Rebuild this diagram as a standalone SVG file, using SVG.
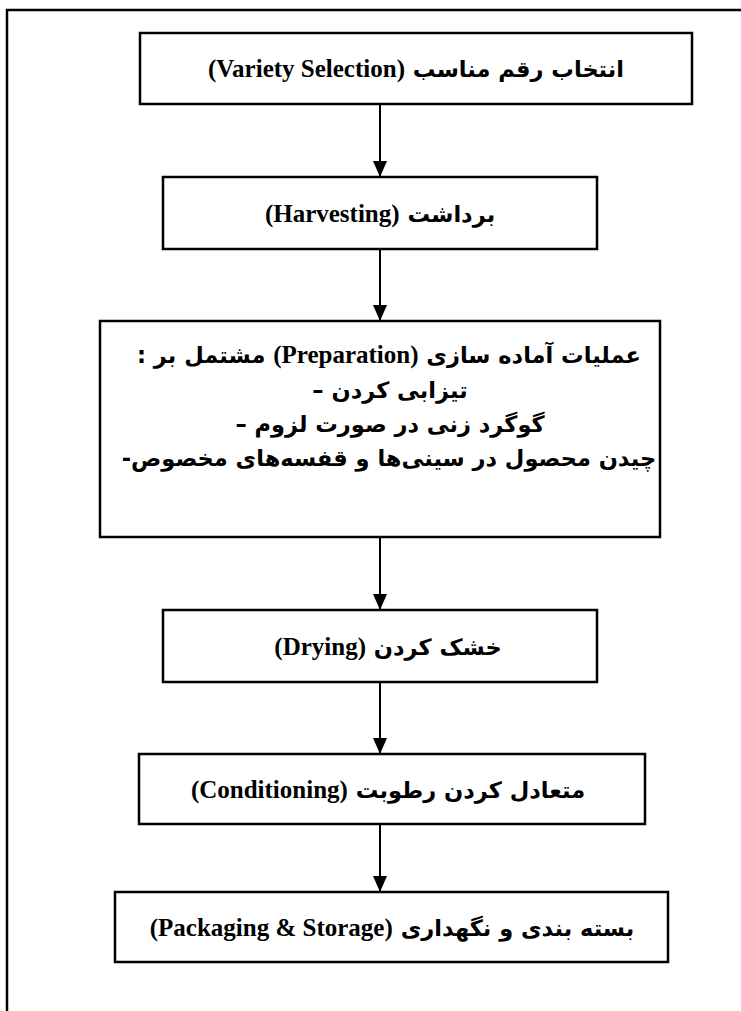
<svg xmlns="http://www.w3.org/2000/svg" width="741" height="1011" viewBox="0 0 741 1011">
<style>
.box{fill:#fff;stroke:#000;stroke-width:2.5}
.frame{fill:none;stroke:#000;stroke-width:2.5}
.t{font-family:"DejaVu Sans","Liberation Serif",sans-serif;font-weight:bold;font-size:22.5px;fill:#000;text-anchor:middle;direction:rtl}
.e{font-family:"Liberation Serif","Times New Roman",serif;font-size:25px}
.c{stroke:#000;stroke-width:2;fill:none}
</style>
<defs>
<marker id="ah" markerUnits="userSpaceOnUse" markerWidth="16" markerHeight="14" refX="16" refY="7" orient="auto">
<path d="M0,0 L16,7 L0,14 z" fill="#000"/>
</marker>
</defs>
<path class="frame" d="M7,1011 V10 H741"/>
<g id="connectors">
<line class="c" x1="380" y1="104" x2="380" y2="177" marker-end="url(#ah)"/>
<line class="c" x1="380" y1="249" x2="380" y2="321" marker-end="url(#ah)"/>
<line class="c" x1="380" y1="537" x2="380" y2="610" marker-end="url(#ah)"/>
<line class="c" x1="380" y1="682" x2="380" y2="754" marker-end="url(#ah)"/>
<line class="c" x1="380" y1="824" x2="380" y2="892" marker-end="url(#ah)"/>
</g>
<g id="n1">
<rect class="box" x="140" y="33" width="552" height="71"/>
<text class="t" x="416" y="77">انتخاب رقم مناسب <tspan class="e">(Variety Selection)</tspan></text>
</g>
<g id="n2">
<rect class="box" x="163" y="177" width="434" height="72"/>
<text class="t" x="380" y="222">برداشت <tspan class="e">(Harvesting)</tspan></text>
</g>
<g id="n3">
<rect class="box" x="100" y="321" width="560" height="216"/>
<text class="t" x="389" y="363">عملیات آماده سازی <tspan class="e">(Preparation)</tspan> مشتمل بر :</text>
<text class="t" x="390" y="398">تیزابی کردن –</text>
<text class="t" x="390" y="432">گوگرد زنی در صورت لزوم –</text>
<text class="t" x="389" y="466">چیدن محصول در سینی&#x200C;ها و قفسه&#x200C;های مخصوص-</text>
</g>
<g id="n4">
<rect class="box" x="163" y="610" width="434" height="72"/>
<text class="t" x="388" y="655">خشک کردن <tspan class="e">(Drying)</tspan></text>
</g>
<g id="n5">
<rect class="box" x="139" y="754" width="506" height="70"/>
<text class="t" x="388" y="798">متعادل کردن رطوبت  <tspan class="e">(Conditioning)</tspan></text>
</g>
<g id="n6">
<rect class="box" x="115" y="892" width="553" height="70"/>
<text class="t" x="392" y="936">بسته بندی و نگهداری <tspan class="e">(Packaging &amp; Storage)</tspan></text>
</g>
</svg>
